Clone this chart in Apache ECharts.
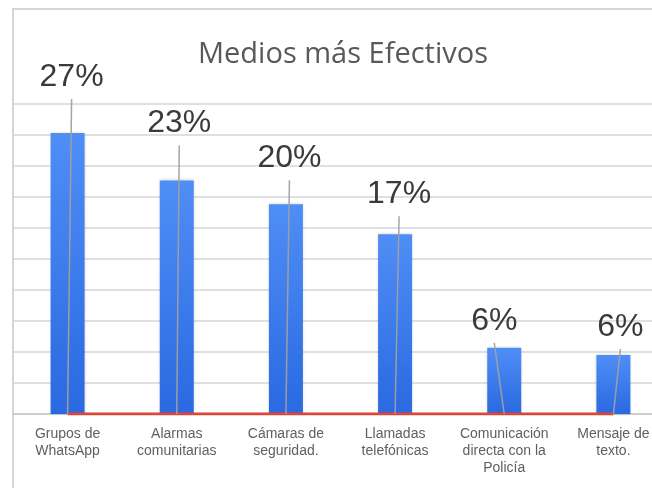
<!DOCTYPE html>
<html>
<head>
<meta charset="utf-8">
<script src="https://cdn.jsdelivr.net/npm/echarts@6/dist/echarts.min.js"></script>
<style>
html,body{margin:0;padding:0;background:#fff;}
#chart{width:652px;height:488px;}
</style>
</head>
<body>
<div id="chart"></div>
<script>
// ---- data ----
const categories = ['Grupos de\nWhatsApp', 'Alarmas\ncomunitarias', 'Cámaras de\nseguridad.', 'Llamadas\ntelefónicas', 'Comunicación\ndirecta con la\nPolicía', 'Mensaje de\ntexto.'];
const values = [27.2, 22.6, 20.3, 17.4, 6.4, 5.7];
const labelTexts = ['27%', '23%', '20%', '17%', '6%', '6%'];
const redLineValues = [0, 0, 0, 0, 0, 0];

// ---- label layout (pixel nudges, styling only) ----
const labelDx = [4, 2.5, 3.5, 4, -10, 7];
const labelRise = [56, 57, 46, 40, 27, 28];

const chart = echarts.init(document.getElementById('chart'), null, {renderer: 'canvas'});
const option = {
  backgroundColor: '#ffffff',
  animation: false,
  title: {
    text: 'Medios más Efectivos',
    left: 193,
    top: 35,
    textStyle: {fontFamily: '"Open Sans", sans-serif', fontSize: 29, fontWeight: 'normal', color: '#595959'}
  },
  graphic: [{
    type: 'rect', z: -10, silent: true,
    shape: {x: 13, y: 9, width: 700, height: 600},
    style: {fill: null, stroke: '#d6d6d6', lineWidth: 2}
  }],
  grid: {left: 13, width: 655, top: 104, bottom: 74, containLabel: false, outerBoundsMode: 'none'},
  xAxis: {
    type: 'category',
    data: categories,
    axisTick: {show: false},
    axisLine: {lineStyle: {color: '#c8c8c8', width: 1.5}},
    axisLabel: {interval: 0, fontSize: 14, lineHeight: 17, color: '#606060', fontFamily: '"Liberation Sans", Arial, sans-serif', margin: 12}
  },
  yAxis: {
    type: 'value', min: 0, max: 30, interval: 3,
    axisLabel: {show: false}, axisLine: {show: false}, axisTick: {show: false},
    splitLine: {lineStyle: {color: '#d6d6d6', width: 1.5}}
  },
  series: [
    {
      type: 'bar',
      data: values,
      barWidth: 34,
      z: 2,
      itemStyle: {
        color: new echarts.graphic.LinearGradient(0, 0, 0, 1, [
          {offset: 0, color: '#4f8ef6'},
          {offset: 1, color: '#2a69e0'}
        ]),
        shadowColor: 'rgba(0,0,0,0.2)', shadowBlur: 3
      }
    },
    {
      type: 'line',
      data: redLineValues,
      symbol: 'none',
      z: 3,
      lineStyle: {color: '#d9473a', width: 3}
    },
    {
      type: 'custom',
      z: 4,
      data: values.map((v, i) => [i, v]),
      renderItem: function (params, api) {
        const i = api.value(0), v = api.value(1);
        const top = api.coord([i, v]);
        const base = api.coord([i, 0]);
        const cx = top[0] + labelDx[i];
        const cy = top[1] - labelRise[i];
        return {
          type: 'group',
          children: [
            {type: 'line', shape: {x1: cx, y1: cy + 22, x2: base[0], y2: base[1]},
             style: {stroke: 'rgba(160,160,160,0.95)', lineWidth: 1.5}},
            {type: 'text', style: {text: labelTexts[i], x: cx, y: cy, align: 'center', verticalAlign: 'middle',
              font: '32px "Liberation Sans", Arial, sans-serif', fill: '#3a3a3a'}}
          ]
        };
      }
    }
  ]
};
chart.setOption(option);
</script>
</body>
</html>
